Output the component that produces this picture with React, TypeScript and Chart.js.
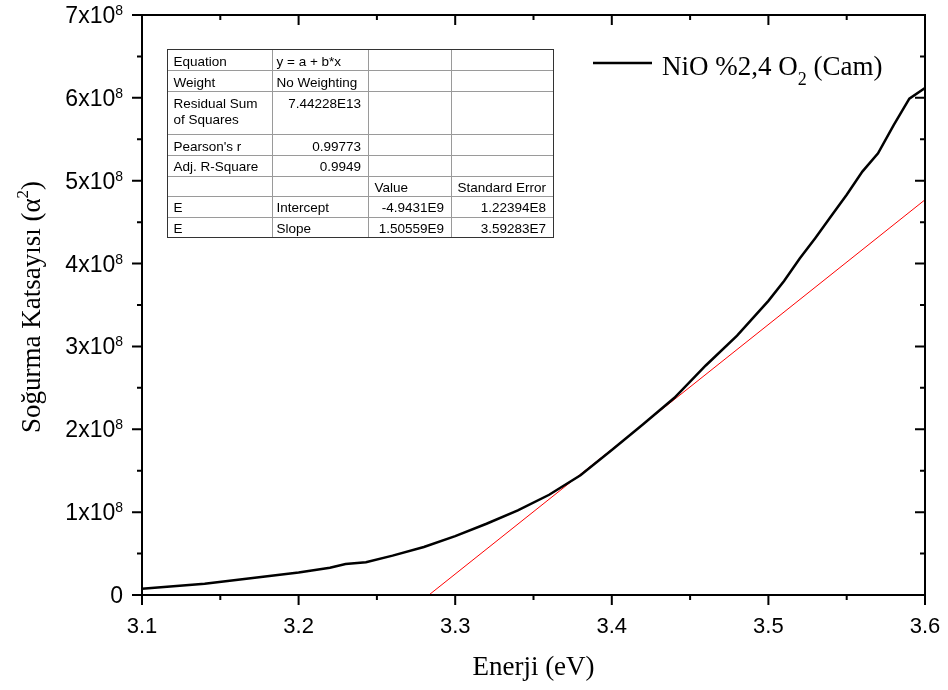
import { useEffect, useRef } from 'react';
import { Chart, registerables } from 'chart.js';

Chart.register(...registerables);

// ---- data ----
const energy = [
  3.10, 3.12, 3.14, 3.16, 3.18, 3.20, 3.22, 3.23, 3.243, 3.26, 3.28,
  3.30, 3.32, 3.34, 3.36, 3.38, 3.40, 3.42, 3.44, 3.46, 3.48,
  3.50, 3.51, 3.52, 3.53, 3.54, 3.55, 3.56, 3.57, 3.58, 3.59, 3.60,
];
const absorption = [
  0.076e8, 0.105e8, 0.137e8, 0.18e8, 0.225e8, 0.272e8, 0.33e8, 0.375e8, 0.395e8, 0.475e8, 0.58e8,
  0.71e8, 0.86e8, 1.02e8, 1.21e8, 1.445e8, 1.75e8, 2.06e8, 2.38e8, 2.77e8, 3.13e8,
  3.55e8, 3.79e8, 4.06e8, 4.31e8, 4.57e8, 4.83e8, 5.11e8, 5.33e8, 5.67e8, 5.99e8, 6.12e8,
];
const fitEnergy = [3.2832, 3.6];
const fitAbsorption = [0, 4.77e8];

const xTickValues = [3.1, 3.2, 3.3, 3.4, 3.5, 3.6];
const xTickLabels = ['3.1', '3.2', '3.3', '3.4', '3.5', '3.6'];
const yTickValues = [0, 1e8, 2e8, 3e8, 4e8, 5e8, 6e8, 7e8];
const yTickMantissa = ['0', '1x10', '2x10', '3x10', '4x10', '5x10', '6x10', '7x10'];
const yTickExponent = ['', '8', '8', '8', '8', '8', '8', '8'];

const xTitle = 'Enerji (eV)';
const yTitleMain = 'Soğurma Katsayısı (α';
const yTitleSup = '2';
const yTitleEnd = ')';
const legendMain = 'NiO %2,4 O';
const legendSub = '2';
const legendEnd = ' (Cam)';

const tableCol0 = ['Equation', 'Weight', 'Residual Sum\nof Squares', "Pearson's r", 'Adj. R-Square', '', 'E', 'E'];
const tableCol1 = ['y = a + b*x', 'No Weighting', '7.44228E13', '0.99773', '0.9949', '', 'Intercept', 'Slope'];
const tableCol2 = ['', '', '', '', '', 'Value', '-4.9431E9', '1.50559E9'];
const tableCol3 = ['', '', '', '', '', 'Standard Error', '1.22394E8', '3.59283E7'];

const SANS = '"Liberation Sans", Arial, sans-serif';
const SERIF = '"Liberation Serif", "Times New Roman", serif';

const isNumeric = (s: string) => /^-?[0-9.]+(E-?[0-9]+)?$/.test(s);

const decorPlugin = {
  id: 'decor',
  afterDraw(chart: any) {
    const ctx = chart.ctx as CanvasRenderingContext2D;
    const { left, right, top, bottom } = chart.chartArea;
    const xs = chart.scales.x;
    const ys = chart.scales.y;
    ctx.save();
    ctx.strokeStyle = '#000';
    ctx.fillStyle = '#000';

    // frame
    ctx.lineWidth = 2;
    ctx.strokeRect(left, top, right - left, bottom - top);

    // x ticks (major 0.1, minor 0.05)
    for (let i = 0; i <= 10; i++) {
      const v = 3.1 + i * 0.05;
      const px = xs.getPixelForValue(v);
      const major = i % 2 === 0;
      const len = major ? 10 : 5;
      ctx.beginPath();
      ctx.moveTo(px, bottom);
      ctx.lineTo(px, bottom + len);
      ctx.moveTo(px, top);
      ctx.lineTo(px, top + len);
      ctx.stroke();
    }
    // y ticks
    for (let i = 0; i <= 14; i++) {
      const v = i * 0.5e8;
      const py = ys.getPixelForValue(v);
      const major = i % 2 === 0;
      const len = major ? 10 : 5;
      ctx.beginPath();
      ctx.moveTo(left, py);
      ctx.lineTo(left - len, py);
      ctx.moveTo(right, py);
      ctx.lineTo(right - len, py);
      ctx.stroke();
    }

    // x tick labels
    ctx.font = `22px ${SANS}`;
    ctx.textAlign = 'center';
    ctx.textBaseline = 'alphabetic';
    xTickValues.forEach((v, i) => {
      ctx.fillText(xTickLabels[i], xs.getPixelForValue(v), bottom + 38);
    });

    // y tick labels
    yTickValues.forEach((v, i) => {
      const py = ys.getPixelForValue(v);
      const exp = yTickExponent[i];
      let rightEdge = left - 19;
      if (exp) {
        ctx.font = `14px ${SANS}`;
        const ew = ctx.measureText(exp).width;
        ctx.textAlign = 'right';
        ctx.fillText(exp, rightEdge, py + 0);
        rightEdge -= ew;
      }
      ctx.font = `23px ${SANS}`;
      ctx.textAlign = 'right';
      ctx.fillText(yTickMantissa[i], rightEdge, py + 8);
    });

    // x title
    ctx.font = `27px ${SERIF}`;
    ctx.textAlign = 'center';
    ctx.fillText(xTitle, (left + right) / 2, bottom + 80);

    // y title (rotated)
    ctx.save();
    ctx.translate(40, (top + bottom) / 2 + 2);
    ctx.rotate(-Math.PI / 2);
    ctx.font = `27px ${SERIF}`;
    const w1 = ctx.measureText(yTitleMain).width;
    const w3 = ctx.measureText(yTitleEnd).width;
    ctx.font = `17px ${SERIF}`;
    const w2 = ctx.measureText(yTitleSup).width;
    const total = w1 + w2 + w3;
    let tx = -total / 2;
    ctx.textAlign = 'left';
    ctx.font = `27px ${SERIF}`;
    ctx.fillText(yTitleMain, tx, 0);
    tx += w1;
    ctx.font = `17px ${SERIF}`;
    ctx.fillText(yTitleSup, tx, -12);
    tx += w2;
    ctx.font = `27px ${SERIF}`;
    ctx.fillText(yTitleEnd, tx, 0);
    ctx.restore();

    // legend
    ctx.lineWidth = 2.5;
    ctx.beginPath();
    ctx.moveTo(593, 63);
    ctx.lineTo(652, 63);
    ctx.stroke();
    ctx.textAlign = 'left';
    ctx.font = `27px ${SERIF}`;
    let lx = 662;
    ctx.fillText(legendMain, lx, 75);
    lx += ctx.measureText(legendMain).width;
    ctx.font = `18px ${SERIF}`;
    ctx.fillText(legendSub, lx, 85);
    lx += ctx.measureText(legendSub).width;
    ctx.font = `27px ${SERIF}`;
    ctx.fillText(legendEnd, lx, 75);

    // table
    const colX = [167, 272, 368, 451, 553];
    const rowY = [49, 70, 91, 134, 155, 175.5, 196, 216.5, 237];
    ctx.fillStyle = '#fff';
    ctx.fillRect(colX[0], rowY[0], colX[4] - colX[0], rowY[8] - rowY[0]);
    ctx.strokeStyle = '#9a9a9a';
    ctx.lineWidth = 1;
    ctx.beginPath();
    for (let r = 1; r < rowY.length - 1; r++) {
      ctx.moveTo(colX[0], Math.round(rowY[r]) + 0.5);
      ctx.lineTo(colX[4], Math.round(rowY[r]) + 0.5);
    }
    for (let c = 1; c < colX.length - 1; c++) {
      ctx.moveTo(colX[c] + 0.5, rowY[0]);
      ctx.lineTo(colX[c] + 0.5, rowY[8]);
    }
    ctx.stroke();
    ctx.strokeStyle = '#333';
    ctx.strokeRect(colX[0] + 0.5, rowY[0] + 0.5, colX[4] - colX[0], rowY[8] - rowY[0]);

    ctx.fillStyle = '#000';
    ctx.font = `13.5px ${SANS}`;
    const cols = [tableCol0, tableCol1, tableCol2, tableCol3];
    for (let r = 0; r < 8; r++) {
      const rt = rowY[r];
      const rb = rowY[r + 1];
      const tall = rb - rt > 30;
      for (let c = 0; c < 4; c++) {
        const txt = cols[c][r];
        if (!txt) continue;
        const lines = txt.split('\n');
        const numeric = isNumeric(txt) && c > 0;
        ctx.textAlign = numeric ? 'right' : 'left';
        const x = numeric ? colX[c + 1] - 7 : colX[c] + (c === 1 ? 4.5 : 6.5);
        lines.forEach((ln, k) => {
          const y = tall ? rt + 17 + k * 16 : (rt + rb) / 2 + 6;
          ctx.fillText(ln, x, y);
        });
      }
    }

    ctx.restore();
  },
};

export default function App() {
  const ref = useRef<HTMLCanvasElement | null>(null);
  useEffect(() => {
    document.body.style.margin = '0';
    const canvas = ref.current!;
    const chart = new Chart(canvas, {
      type: 'scatter',
      data: {
        datasets: [
          {
            label: 'NiO %2,4 O2 (Cam)',
            data: energy.map((x, i) => ({ x, y: absorption[i] })),
            showLine: true,
            borderColor: '#000',
            borderWidth: 2.5,
            pointRadius: 0,
            tension: 0,
          },
          {
            label: 'Fit',
            data: fitEnergy.map((x, i) => ({ x, y: fitAbsorption[i] })),
            showLine: true,
            borderColor: '#ff0000',
            borderWidth: 1,
            pointRadius: 0,
            tension: 0,
          },
        ],
      },
      options: {
        animation: false,
        responsive: false,
        maintainAspectRatio: false,
        devicePixelRatio: 1,
        layout: { padding: { left: 142, right: 23, top: 15, bottom: 95 } },
        plugins: { legend: { display: false }, tooltip: { enabled: false } },
        scales: {
          x: { type: 'linear', min: 3.1, max: 3.6, display: false },
          y: { type: 'linear', min: 0, max: 7e8, display: false },
        },
      },
      plugins: [decorPlugin],
    });
    return () => chart.destroy();
  }, []);
  return (
    <div style={{ width: 948, height: 690, background: '#fff' }}>
      <canvas ref={ref} width={948} height={690} style={{ display: 'block' }} />
    </div>
  );
}
